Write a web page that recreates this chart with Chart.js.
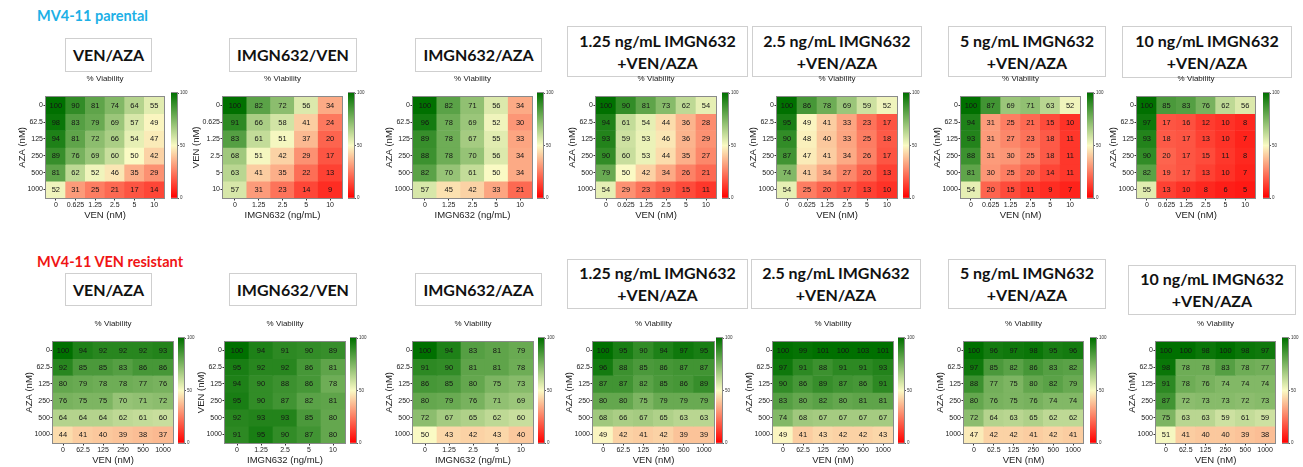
<!DOCTYPE html>
<html><head><meta charset="utf-8">
<script src="https://cdn.jsdelivr.net/npm/chart.js@4.4.1/dist/chart.umd.min.js"></script>
<style>
body{margin:0;background:#fff;width:1303px;height:467px;overflow:hidden;position:relative;font-family:"Liberation Sans",Arial,sans-serif;}
.sec{position:absolute;font-family:Lato,"Open Sans",sans-serif;font-weight:700;font-size:14.5px;white-space:nowrap;line-height:16px;}
.box{position:absolute;border:1px solid #cfcfcf;background:#fff;display:flex;align-items:center;justify-content:center;text-align:center;font-family:Lato,sans-serif;font-weight:700;font-size:16px;line-height:22px;color:#111;box-sizing:border-box;white-space:nowrap;}
.via{position:absolute;font-size:8px;line-height:10px;transform:translate(-50%,-50%);white-space:nowrap;color:#222;font-family:"Liberation Sans",Arial,sans-serif;filter:grayscale(1);}
canvas{position:absolute}
</style></head><body>
<script>
// ---------- tick labels / categories ----------
const venLow  = ['0','0.625','1.25','2.5','5','10'];
const venHigh = ['0','62.5','125','250','500','1000'];
const aza     = ['0','62.5','125','250','500','1000'];
const imgn    = ['0','1.25','2.5','5','10'];
const colorTicks = [0,50,100];

// ---------- MV4-11 parental (% viability) ----------
const parVenAza = [
 [100,90,81,74,64,55],[98,83,79,69,57,49],[94,81,72,66,54,47],
 [89,76,69,60,50,42],[81,62,52,46,35,29],[52,31,25,21,17,14]];
const parImgnVen = [
 [100,82,72,56,34],[91,66,58,41,24],[83,61,51,37,20],
 [68,51,42,29,17],[63,41,35,22,13],[57,31,23,14,9]];
const parImgnAza = [
 [100,82,71,56,34],[96,78,69,52,30],[89,78,67,55,33],
 [88,78,70,56,34],[82,70,61,50,34],[57,45,42,33,21]];
const par125 = [
 [100,90,81,73,62,54],[94,61,54,44,36,28],[93,59,53,46,36,29],
 [90,60,53,44,35,27],[79,50,42,34,26,21],[54,29,23,19,15,11]];
const par25 = [
 [100,86,78,69,59,52],[95,49,41,33,23,17],[90,48,40,33,25,18],
 [87,47,41,34,26,17],[74,41,34,27,20,13],[54,25,20,17,13,10]];
const par5 = [
 [100,87,69,71,63,52],[94,31,25,21,15,10],[93,31,27,23,18,11],
 [88,31,30,25,18,11],[81,30,25,20,14,11],[54,20,15,11,9,7]];
const par10 = [
 [100,85,83,76,62,56],[97,17,16,12,10,8],[93,18,17,13,10,7],
 [90,20,17,15,11,8],[82,19,17,13,10,7],[55,13,10,8,6,5]];

// ---------- MV4-11 VEN resistant (% viability) ----------
const resVenAza = [
 [100,94,92,92,92,93],[92,85,85,83,86,86],[80,79,78,78,77,76],
 [76,75,75,70,71,72],[64,64,64,62,61,60],[44,41,40,39,38,37]];
const resImgnVen = [
 [100,94,91,90,89],[95,92,92,86,81],[94,90,88,86,78],
 [95,90,87,82,81],[92,93,93,85,80],[91,95,90,87,80]];
const resImgnAza = [
 [100,94,83,81,79],[91,90,81,81,78],[86,85,80,75,73],
 [80,79,76,71,69],[72,67,65,62,60],[50,43,42,43,40]];
const res125 = [
 [100,95,90,94,97,95],[96,88,85,86,87,87],[87,87,82,85,86,89],
 [80,80,75,79,79,79],[68,66,67,65,63,63],[49,42,41,42,39,39]];
const res25 = [
 [100,99,101,100,103,101],[97,91,88,91,91,93],[90,86,89,87,86,91],
 [83,80,82,80,81,81],[74,68,67,67,67,67],[49,41,43,42,42,43]];
const res5 = [
 [100,96,97,98,95,96],[97,85,82,86,83,82],[88,77,75,80,82,79],
 [80,76,75,76,74,74],[72,64,63,65,62,62],[47,42,42,41,42,41]];
const res10 = [
 [100,100,98,100,98,97],[98,78,78,83,78,77],[91,78,76,74,74,74],
 [87,72,73,73,72,73],[75,63,63,59,61,59],[51,41,40,40,39,38]];

// ---------- colour scale ----------
const C0=[255,0,0], C50=[250,250,196], C100=[0,112,0];
function mix(a,b,t){return a.map((x,i)=>Math.round(x+(b[i]-x)*t));}
function colorFor(v){v=Math.max(0,Math.min(100,v));const c=v<=50?mix(C0,C50,v/50):mix(C50,C100,(v-50)/50);return 'rgb('+c.join(',')+')';}

// ---------- layout ----------
const TOP_Y=93, BOT_Y=338, GH=105;
const panels = [
 {vals:parVenAza, xl:venLow, yl:aza, xt:'VEN (nM)', yt:'AZA (nM)', gx:46, gy:TOP_Y, gw:118, cx:171, axw:29},
 {vals:parImgnVen, xl:imgn, yl:venLow, xt:'IMGN632 (ng/mL)', yt:'VEN (nM)', gx:223, gy:TOP_Y, gw:119, cx:348, axw:32},
 {vals:parImgnAza, xl:imgn, yl:aza, xt:'IMGN632 (ng/mL)', yt:'AZA (nM)', gx:413, gy:TOP_Y, gw:119, cx:537, axw:29},
 {vals:par125, xl:venLow, yl:aza, xt:'VEN (nM)', yt:'AZA (nM)', gx:596, gy:TOP_Y, gw:120, cx:722, axw:29},
 {vals:par25, xl:venLow, yl:aza, xt:'VEN (nM)', yt:'AZA (nM)', gx:777, gy:TOP_Y, gw:120, cx:903, axw:29},
 {vals:par5, xl:venLow, yl:aza, xt:'VEN (nM)', yt:'AZA (nM)', gx:961, gy:TOP_Y, gw:119, cx:1087, axw:29},
 {vals:par10, xl:venLow, yl:aza, xt:'VEN (nM)', yt:'AZA (nM)', gx:1137, gy:TOP_Y, gw:118, cx:1263, axw:29},
 {vals:resVenAza, xl:venHigh, yl:aza, xt:'VEN (nM)', yt:'AZA (nM)', gx:53, gy:BOT_Y, gw:120, cx:178, axw:29},
 {vals:resImgnVen, xl:imgn, yl:venHigh, xt:'IMGN632 (ng/mL)', yt:'VEN (nM)', gx:225, gy:BOT_Y, gw:120, cx:350, axw:29},
 {vals:resImgnAza, xl:imgn, yl:aza, xt:'IMGN632 (ng/mL)', yt:'AZA (nM)', gx:413, gy:BOT_Y, gw:120, cx:538, axw:29},
 {vals:res125, xl:venHigh, yl:aza, xt:'VEN (nM)', yt:'AZA (nM)', gx:593, gy:BOT_Y, gw:121, cx:716, axw:29},
 {vals:res25, xl:venHigh, yl:aza, xt:'VEN (nM)', yt:'AZA (nM)', gx:773, gy:BOT_Y, gw:120, cx:898, axw:29},
 {vals:res5, xl:venHigh, yl:aza, xt:'VEN (nM)', yt:'AZA (nM)', gx:964, gy:BOT_Y, gw:119, cx:1090, axw:29},
 {vals:res10, xl:venHigh, yl:aza, xt:'VEN (nM)', yt:'AZA (nM)', gx:1156, gy:BOT_Y, gw:119, cx:1282, axw:29}
];

const boxes = [
 {t:'VEN/AZA', l:65, y:38, w:87, h:34},
 {t:'IMGN632/VEN', l:229, y:38, w:128, h:34},
 {t:'IMGN632/AZA', l:415, y:38, w:127, h:34},
 {t:'1.25 ng/mL IMGN632<br>+VEN/AZA', l:567, y:26, w:181, h:51},
 {t:'2.5 ng/mL IMGN632<br>+VEN/AZA', l:752, y:26, w:170, h:51},
 {t:'5 ng/mL IMGN632<br>+VEN/AZA', l:948, y:26, w:158, h:51},
 {t:'10 ng/mL IMGN632<br>+VEN/AZA', l:1122, y:26, w:170, h:52},
 {t:'VEN/AZA', l:65, y:273, w:87, h:33},
 {t:'IMGN632/VEN', l:229, y:273, w:128, h:33},
 {t:'IMGN632/AZA', l:415, y:273, w:127, h:33},
 {t:'1.25 ng/mL IMGN632<br>+VEN/AZA', l:567, y:259, w:181, h:50},
 {t:'2.5 ng/mL IMGN632<br>+VEN/AZA', l:751, y:259, w:170, h:50},
 {t:'5 ng/mL IMGN632<br>+VEN/AZA', l:948, y:259, w:158, h:50},
 {t:'10 ng/mL IMGN632<br>+VEN/AZA', l:1128, y:265, w:168, h:50}
];

function addDiv(cls, html, css){const d=document.createElement('div');d.className=cls;d.innerHTML=html;Object.assign(d.style,css);document.body.appendChild(d);return d;}
addDiv('sec','MV4-11 parental',{left:'37px',top:'8px',color:'#1cb0e6'});
addDiv('sec','MV4-11 VEN resistant',{left:'37px',top:'254px',color:'#f01414'});
boxes.forEach(b=>addDiv('box',b.t,{left:b.l+'px',top:b.y+'px',width:b.w+'px',height:b.h+'px'}));
panels.forEach(p=>addDiv('via','% Viability',{left:(p.gx+p.gw/2)+'px',top:(p.gy-14)+'px'}));

// ---------- plugins ----------
const frame = {id:'frame', afterDraw(chart){const a=chart.chartArea,ctx=chart.ctx;ctx.save();ctx.strokeStyle='#8a8a8a';ctx.lineWidth=1;ctx.strokeRect(Math.round(a.left)-0.5,Math.round(a.top)-0.5,Math.round(a.right-a.left)+1,Math.round(a.bottom-a.top)+1);ctx.restore();}};
const cellLabels = {id:'cellLabels', afterDatasetsDraw(chart){
  const ctx=chart.ctx;ctx.save();ctx.font='7.5px "Liberation Sans", Arial, sans-serif';ctx.fillStyle='#151515';ctx.textAlign='center';ctx.textBaseline='middle';
  chart.data.datasets.forEach((ds,di)=>{chart.getDatasetMeta(di).data.forEach((el,j)=>{const c=el.getCenterPoint();ctx.fillText(String(ds.cellValues[j]),c.x,c.y+0.5);});});
  ctx.restore();}};

function makeCanvas(l,t,w,h){const cv=document.createElement('canvas');cv.width=w;cv.height=h;Object.assign(cv.style,{left:l+'px',top:t+'px',width:w+'px',height:h+'px'});document.body.appendChild(cv);return cv;}

const tickFont={family:'"Liberation Sans", Arial, sans-serif', size:7};
const titleFont={family:'"Liberation Sans", Arial, sans-serif', size:9.5};

function heat(p){
  const padT=1,padR=2,AXH=23;
  const cv=makeCanvas(p.gx-p.axw,p.gy-padT,p.axw+p.gw+padR,padT+GH+AXH);
  const datasets=p.vals.map((row,i)=>({
    data:row.map(()=>[i,i+1]), cellValues:row,
    backgroundColor:row.map(colorFor), borderWidth:0,
    barPercentage:1, categoryPercentage:1, grouped:false
  }));
  new Chart(cv,{type:'bar',data:{labels:p.xl,datasets},
    options:{responsive:false,animation:false,events:[],
      layout:{padding:{top:padT,right:padR,left:0,bottom:0}},
      plugins:{legend:{display:false},tooltip:{enabled:false}},
      scales:{
        x:{type:'category',offset:true,
           grid:{display:true,drawOnChartArea:false,offset:false,tickLength:2.5,color:'#333'},
           border:{display:false},
           ticks:{font:tickFont,color:'#222',maxRotation:0,autoSkip:false,padding:0.5},
           title:{display:true,text:p.xt,font:titleFont,color:'#222',padding:{top:0,bottom:0}},
           afterFit:s=>{s.height=AXH;}},
        y:{type:'linear',min:0,max:6,reverse:true,
           afterBuildTicks:s=>{s.ticks=p.yl.map((l,i)=>({value:i+0.5}));},
           ticks:{callback:(v,i)=>p.yl[i],font:tickFont,color:'#222',padding:0.5,autoSkip:false},
           grid:{drawOnChartArea:false,tickLength:2.5,color:'#333'},
           border:{display:false},
           title:{display:true,text:p.yt,font:titleFont,color:'#222',padding:{top:0,bottom:0}},
           afterFit:s=>{s.width=p.axw;}}
      }},
    plugins:[cellLabels,frame]});
}

function cbar(p){
  const pad=4,cw=6,AW=14;
  const cv=makeCanvas(p.cx,p.gy-pad,cw+AW,GH+2*pad);
  new Chart(cv,{type:'bar',data:{labels:[''],datasets:[{data:[[colorTicks[0],colorTicks[2]]],
      backgroundColor:(c)=>{const a=c.chart.chartArea;if(!a)return colorFor(50);const g=c.chart.ctx.createLinearGradient(0,a.bottom,0,a.top);g.addColorStop(0,colorFor(0));g.addColorStop(0.5,colorFor(50));g.addColorStop(1,colorFor(100));return g;},
      borderWidth:0,barPercentage:1,categoryPercentage:1}]},
    options:{responsive:false,animation:false,events:[],
      layout:{padding:{top:pad,bottom:pad,left:0,right:0}},
      plugins:{legend:{display:false},tooltip:{enabled:false}},
      scales:{
        x:{display:false,offset:true},
        y:{position:'right',min:0,max:100,
           afterBuildTicks:s=>{s.ticks=colorTicks.map(v=>({value:v}));},
           ticks:{font:{family:'"Liberation Sans", Arial, sans-serif',size:4.5},color:'#333',padding:1},
           grid:{drawOnChartArea:false,tickLength:2,color:'#555'},
           border:{display:false},
           afterFit:s=>{s.width=AW;}}
      }},
    plugins:[frame]});
}

panels.forEach(p=>{heat(p);cbar(p);});
</script>
</body></html>
